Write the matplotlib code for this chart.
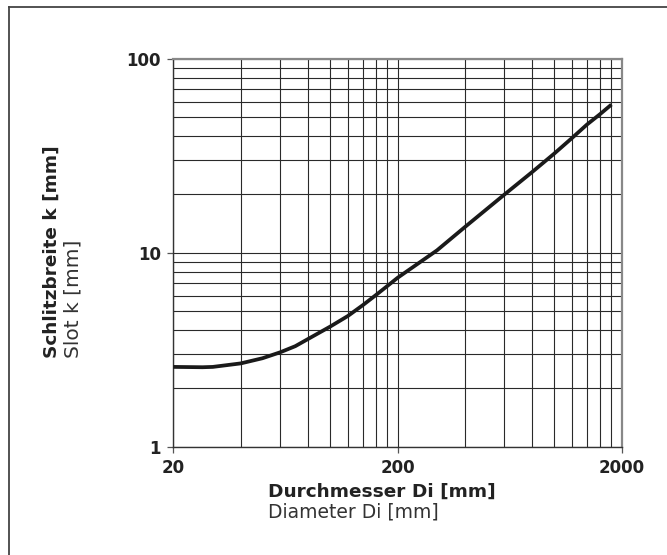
import numpy as np
import matplotlib.pyplot as plt
from matplotlib.ticker import FixedLocator, LogLocator, NullFormatter, FixedFormatter
from matplotlib.lines import Line2D

plt.rcParams['font.family'] = ['DejaVu Sans']

# Durchmesser Di [mm] -> Schlitzbreite k [mm]
diameter = [20, 27, 30, 40, 50, 60, 70, 80, 100, 120, 140, 160, 180, 200,
            300, 400, 600, 800, 1000, 1200, 1400, 1600, 1800]
slot = [2.58, 2.57, 2.58, 2.69, 2.86, 3.07, 3.30, 3.60, 4.16, 4.72, 5.37,
        6.05, 6.74, 7.43, 10.3, 13.6, 20.0, 26.2, 32.5, 39.1, 45.9, 51.9, 58.2]

x_major = [20, 200, 2000]
x_minor = list(range(40, 200, 20)) + list(range(400, 2000, 200))
y_major = [1, 10, 100]

fig = plt.figure(figsize=(6.67, 5.55), dpi=100)
ax = fig.add_axes([173.3 / 667, 1 - 446.7 / 555, (621.7 - 173.3) / 667, (446.7 - 59) / 555])

ax.set_xscale('log')
ax.set_yscale('log')
ax.set_xlim(20, 2000)
ax.set_ylim(1, 100)

ax.plot(diameter, slot, color='#1a1a1a', lw=2.7, solid_capstyle='butt', zorder=3)

ax.xaxis.set_major_locator(FixedLocator(x_major))
ax.xaxis.set_major_formatter(FixedFormatter([str(v) for v in x_major]))
ax.xaxis.set_minor_locator(FixedLocator(x_minor))
ax.xaxis.set_minor_formatter(NullFormatter())
ax.yaxis.set_major_locator(FixedLocator(y_major))
ax.yaxis.set_major_formatter(FixedFormatter([str(v) for v in y_major]))
ax.yaxis.set_minor_locator(LogLocator(base=10, subs=range(2, 10)))
ax.yaxis.set_minor_formatter(NullFormatter())

ax.grid(True, which='both', color='#2a2a2a', lw=0.8)
ax.tick_params(which='major', length=4, width=0.9, color='#555555', pad=5)
ax.tick_params(which='minor', length=0)
for lab in ax.get_xticklabels() + ax.get_yticklabels():
    lab.set_fontsize(12)
    lab.set_fontweight('bold')
    lab.set_color('#222222')

for side in ['left', 'bottom']:
    ax.spines[side].set_color('#333333')
    ax.spines[side].set_linewidth(1.0)
for side in ['top', 'right']:
    ax.spines[side].set_color('#888888')
    ax.spines[side].set_linewidth(1.6)

# axis titles, German bold + English regular
fig.text(268 / 667, 1 - 491.7 / 555, 'Durchmesser Di [mm]', fontsize=13.3,
         fontweight='bold', color='#222222', ha='left', va='center')
fig.text(268 / 667, 1 - 512 / 555, 'Diameter Di [mm]', fontsize=13.5,
         color='#333333', ha='left', va='center')
fig.text(52 / 667, 1 - 358 / 555, 'Schlitzbreite k [mm]', fontsize=13.3,
         fontweight='bold', color='#222222', rotation=90, ha='center', va='bottom')
fig.text(73 / 667, 1 - 358 / 555, 'Slot k [mm]', fontsize=14.5,
         color='#333333', rotation=90, ha='center', va='bottom')

# outer frame (left and top edges visible)
fig.add_artist(Line2D([9 / 667, 9 / 667], [0, 1 - 7 / 555], transform=fig.transFigure,
                      color='#444444', lw=1.3))
fig.add_artist(Line2D([9 / 667, 1], [1 - 7 / 555, 1 - 7 / 555], transform=fig.transFigure,
                      color='#444444', lw=1.3))

plt.savefig('out.png', dpi=100, facecolor='white')
